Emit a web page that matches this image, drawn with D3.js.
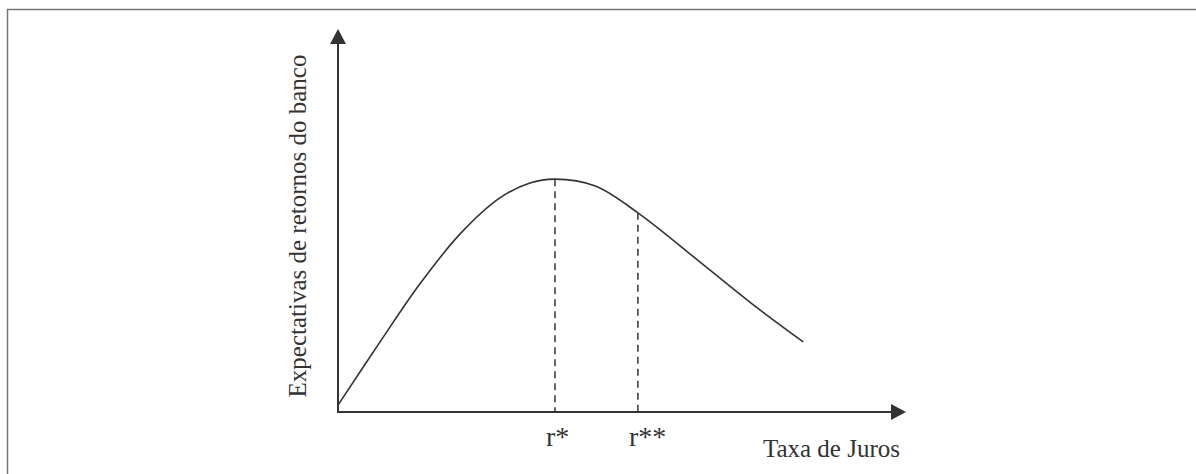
<!DOCTYPE html>
<html>
<head>
<meta charset="utf-8">
<script src="https://cdn.jsdelivr.net/npm/d3@7"></script>
<style>
  body { margin: 0; background: #fff; }
  svg { display: block; }
  text { font-family: "Liberation Serif", "Times New Roman", serif; fill: #333; }
</style>
</head>
<body>
<svg id="chart"></svg>
<script>
// Curve of the bank's expected return against the interest rate (values in axis units 0-100)
const rates = [0, 7.4, 14.4, 21.5, 28.5, 33.8, 38.2, 45.3, 52.8, 63.7, 72.5, 81.9];
const returns = [1.8, 18.3, 33.4, 46.5, 55.9, 59.8, 60.8, 59.0, 52.0, 39.2, 28.7, 18.3];
// Marked rates on the x axis
const markLabels = ["r*", "r**"];
const markRates = [38.2, 52.8];
const markReturns = [60.8, 52.0];
const xTitle = "Taxa de Juros";
const yTitle = "Expectativas de retornos do banco";

const W = 1196, H = 474;
const svg = d3.select("#chart").attr("width", W).attr("height", H);

// frame (only left and top edges visible)
svg.append("path")
  .attr("d", `M7.5,${H} V9.5 H${W}`)
  .attr("fill", "none")
  .attr("stroke", "#777")
  .attr("stroke-width", 1.5);

const x = d3.scaleLinear().domain([0, 100]).range([338, 906]);
const y = d3.scaleLinear().domain([0, 100]).range([412, 29]);

const ink = "#333";

// axes with arrowheads
svg.append("line")
  .attr("x1", x(0)).attr("x2", x(100) - 12)
  .attr("y1", y(0)).attr("y2", y(0))
  .attr("stroke", ink).attr("stroke-width", 2);
svg.append("line")
  .attr("x1", x(0)).attr("x2", x(0))
  .attr("y1", y(0) + 1).attr("y2", y(100) + 12)
  .attr("stroke", ink).attr("stroke-width", 2);

svg.append("path")
  .attr("d", `M${x(100)},${y(0)} l-15,-8 v16 z`)
  .attr("fill", ink);
svg.append("path")
  .attr("d", `M${x(0)},${y(100)} l-8,15 h16 z`)
  .attr("fill", ink);

// main curve
const pts = rates.map((r, i) => [r, returns[i]]);
svg.append("path")
  .datum(pts)
  .attr("fill", "none")
  .attr("stroke", ink)
  .attr("stroke-width", 1.6)
  .attr("d", d3.line()
    .x(d => x(d[0]))
    .y(d => y(d[1]))
    .curve(d3.curveCatmullRom.alpha(0.5)));

// dashed guides and labels
markRates.forEach((r, i) => {
  svg.append("line")
    .attr("x1", x(r)).attr("x2", x(r))
    .attr("y1", y(markReturns[i])).attr("y2", y(0))
    .attr("stroke", ink)
    .attr("stroke-width", 1.5)
    .attr("stroke-dasharray", "7,5");
  svg.append("text")
    .attr("x", x(r) - 9)
    .attr("y", 446)
    .attr("font-size", 28)
    .text(markLabels[i]);
});

svg.append("text")
  .attr("x", 900)
  .attr("y", 457)
  .attr("text-anchor", "end")
  .attr("font-size", 25)
  .text(xTitle);

svg.append("text")
  .attr("transform", "translate(306,226) rotate(-90)")
  .attr("text-anchor", "middle")
  .attr("font-size", 25)
  .text(yTitle);
</script>
</body>
</html>
